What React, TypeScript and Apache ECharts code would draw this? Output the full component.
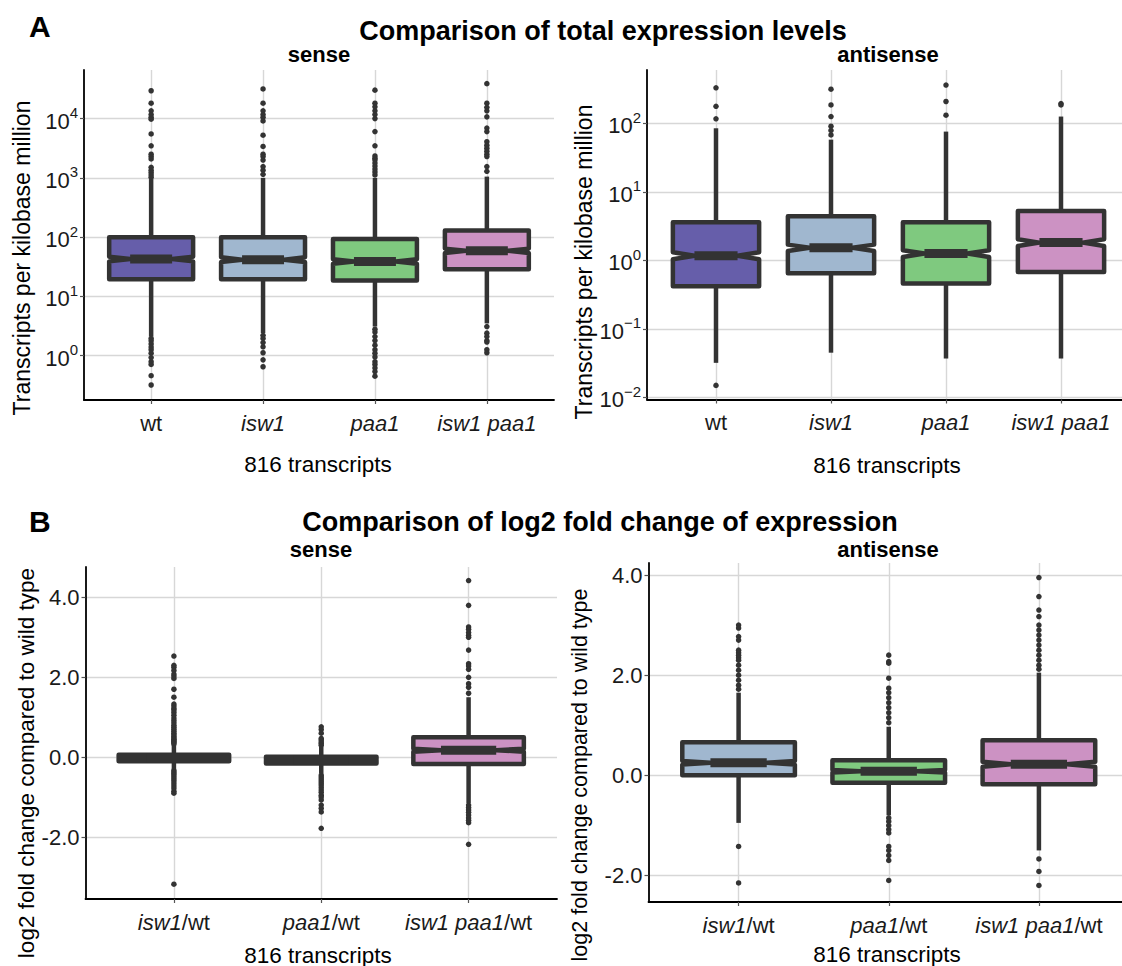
import React, { useEffect, useRef } from "react";
import * as echarts from "echarts";

const FONT = '"Liberation Sans", Arial, Helvetica, sans-serif';
const DARK = "#333333";
const N_TRANSCRIPTS = 816;

// ---------- categories ----------
const strainLabels = ["wt", "isw1", "paa1", "isw1 paa1"];
const ratioLabels = ["isw1", "paa1", "isw1 paa1"]; // shown as "<strain>/wt"
const strainColors = ["#665EAA", "#A0B7CF", "#7FC97F", "#CC92C3"];
const ratioColors = ["#A0B7CF", "#7FC97F", "#CC92C3"];

// ---------- A: TPM, [lower whisker, Q1, median, Q3, upper whisker] ----------
const senseTpmStats = [
  [2.1, 19.5, 42.7, 100, 955],
  [2.4, 19.5, 41.7, 100, 1000],
  [3.1, 18.6, 38.9, 93.3, 1000],
  [3.5, 28.8, 58.9, 129, 1050],
];
const senseTpmOutliers = [
  [29500, 18200, 13500, 11700, 10500, 9770, 5500, 3470, 2510, 2290, 2090, 1510, 1350, 1230, 1120, 1020,
    1.95, 1.78, 1.58, 1.4, 1.26, 1.1, 0.93, 0.79, 0.71, 0.46, 0.32],
  [31600, 18200, 13500, 11700, 10500, 9120, 5250, 3390, 2510, 2290, 2000, 1550, 1350, 1150,
    2.2, 1.95, 1.66, 1.41, 1.12, 0.85, 0.65],
  [30200, 18200, 15800, 13500, 11700, 10000, 6030, 3470, 2340, 2150, 2000, 1780, 1580, 1410, 1260, 1120,
    2.8, 2.5, 2.1, 1.8, 1.5, 1.26, 1.1, 0.95, 0.79, 0.71, 0.62, 0.54, 0.45],
  [38900, 18200, 15500, 13500, 10700, 6920, 6030, 4070, 3550, 3160, 2820, 2510, 2290, 1550, 1290,
    3.1, 2.4, 2.1, 1.8, 1.7, 1.26, 1.12],
];
const antisenseTpmStats = [
  [0.032, 0.42, 1.17, 3.6, 85],
  [0.045, 0.65, 1.53, 4.4, 58],
  [0.037, 0.46, 1.26, 3.6, 76],
  [0.037, 0.68, 1.82, 5.25, 126],
];
const antisenseTpmOutliers = [
  [331, 178, 117, 0.015],
  [316, 186, 126, 91, 79, 68],
  [363, 209, 132],
  [195, 186],
];
const senseExpTicks = [0, 1, 2, 3, 4];
const antisenseExpTicks = [-2, -1, 0, 1, 2];

// ---------- B: log2 fold change, [lower whisker, Q1, median, Q3, upper whisker] ----------
const senseLog2Stats = [
  [-0.3, -0.1, -0.02, 0.06, 0.3],
  [-0.41, -0.16, -0.07, 0.01, 0.26],
  [-1.15, -0.17, 0.175, 0.5, 1.5],
];
const senseLog2Outliers = [
  [2.53, 2.3, 2.25, 2.17, 2.08, 2.03, 1.97, 1.7, 1.5, 1.33, 1.28, 1.22, 1.18, 1.12, 1.05, 0.98, 0.92, 0.86,
    0.8, 0.75, 0.7, 0.65, 0.6, 0.56, 0.52, 0.48, 0.45, 0.42, 0.39, 0.36, 0.33,
    -0.33, -0.37, -0.41, -0.45, -0.5, -0.55, -0.6, -0.66, -0.72, -0.78, -0.85, -0.9, -3.18],
  [0.76, 0.69, 0.6, 0.47, 0.43, 0.38, 0.34, 0.3,
    -0.45, -0.5, -0.55, -0.6, -0.65, -0.7, -0.76, -0.82, -0.88, -0.95, -1.0, -1.07, -1.2, -1.28, -1.37, -1.78],
  [4.42, 3.8, 3.26, 3.2, 3.12, 3.05, 3.0, 2.68, 2.34, 2.28, 2.2, 2.0, 1.84, 1.75, 1.6,
    -1.2, -1.26, -1.32, -1.38, -1.45, -1.52, -1.58, -1.64, -2.18],
];
const antisenseLog2Stats = [
  [-0.95, 0.0, 0.25, 0.66, 1.65],
  [-0.8, -0.15, 0.08, 0.3, 0.97],
  [-1.5, -0.18, 0.22, 0.7, 2.05],
];
const antisenseLog2Outliers = [
  [3.0, 2.94, 2.77, 2.7, 2.5, 2.45, 2.4, 2.35, 2.3, 2.2, 2.1, 2.0, 1.9, 1.8, 1.72, -1.42, -2.15],
  [2.4, 2.27, 2.24, 1.94, 1.74, 1.65, 1.55, 1.45, 1.35, 1.25, 1.15, 1.05,
    -0.85, -0.92, -1.0, -1.08, -1.15, -1.42, -1.5, -1.6, -1.7, -2.1],
  [3.95, 3.57, 3.3, 3.17, 3.0, 2.9, 2.8, 2.7, 2.6, 2.5, 2.4, 2.3, 2.2, 2.12, -1.67, -1.92, -2.2],
];
const log2Ticks = [-2, 0, 2, 4];

// ---------- layout ----------
const BOX_WIDTH = 0.75;
const NOTCH_WIDTH = 0.5;
const LINE_W = 4.5;
const GRID_COLOR = "#d7d7d7";

const panels = [
  { left: 84, top: 70, width: 470, height: 330, xMax: 4.6, yMin: -0.748, yMax: 4.82 },
  { left: 647, top: 70, width: 483, height: 329.5, xMax: 4.6, yMin: -2.03, yMax: 2.78 },
  { left: 85.5, top: 567, width: 471.5, height: 332, xMax: 3.6, yMin: -3.55, yMax: 4.76 },
  { left: 648.5, top: 563, width: 480.5, height: 339, xMax: 3.6, yMin: -2.53, yMax: 4.24 },
];

const log10 = (v: number) => Math.log10(v);
const ident = (v: number) => v;

function boxSeries(idx: number, stats: number[][], colors: string[], tf: (v: number) => number) {
  return {
    type: "custom",
    xAxisIndex: idx,
    yAxisIndex: idx,
    z: 3,
    clip: false,
    data: stats.map((s, i) => [i + 1, ...s.map(tf)]),
    encode: { x: 0, y: [1, 2, 3, 4, 5] },
    renderItem: (params: any, api: any) => {
      const x = api.value(0);
      const lo = api.value(1), q1 = api.value(2), med = api.value(3), q3 = api.value(4), hi = api.value(5);
      const notch = (1.58 * (q3 - q1)) / Math.sqrt(N_TRANSCRIPTS);
      const cx = api.coord([x, med])[0];
      const yLo = api.coord([x, lo])[1];
      const yQ1 = api.coord([x, q1])[1];
      const yMed = api.coord([x, med])[1];
      const yQ3 = api.coord([x, q3])[1];
      const yHi = api.coord([x, hi])[1];
      const yNU = api.coord([x, med + notch])[1];
      const yNL = api.coord([x, med - notch])[1];
      const hw = api.size([BOX_WIDTH, 0])[0] / 2;
      const L = cx - hw, R = cx + hw, inset = hw * NOTCH_WIDTH;
      const lineStyle = { stroke: DARK, lineWidth: LINE_W, lineCap: "butt" };
      return {
        type: "group",
        children: [
          { type: "line", shape: { x1: cx, y1: yHi, x2: cx, y2: yQ3 }, style: lineStyle },
          { type: "line", shape: { x1: cx, y1: yQ1, x2: cx, y2: yLo }, style: lineStyle },
          {
            type: "polygon",
            shape: {
              points: [
                [L, yQ3], [R, yQ3], [R, yNU], [R - inset, yMed], [R, yNL], [R, yQ1],
                [L, yQ1], [L, yNL], [L + inset, yMed], [L, yNU],
              ],
            },
            style: { fill: colors[params.dataIndex], stroke: DARK, lineWidth: LINE_W, lineJoin: "round" },
          },
          {
            type: "line",
            shape: { x1: L + inset, y1: yMed, x2: R - inset, y2: yMed },
            style: { stroke: DARK, lineWidth: LINE_W * 2, lineCap: "butt" },
          },
        ],
      };
    },
  };
}

function outlierSeries(idx: number, outliers: number[][], tf: (v: number) => number) {
  const data: number[][] = [];
  outliers.forEach((list, i) => list.forEach((v) => data.push([i + 1, tf(v)])));
  return {
    type: "scatter",
    xAxisIndex: idx,
    yAxisIndex: idx,
    z: 2,
    symbolSize: 5.5,
    itemStyle: { color: DARK, opacity: 1 },
    silent: true,
    data,
  };
}

const rich = {
  i: { fontStyle: "italic", fontSize: 22, fontFamily: FONT, color: "#1a1a1a" },
  n: { fontStyle: "normal", fontSize: 22, fontFamily: FONT, color: "#1a1a1a" },
  b: { fontSize: 22, fontFamily: FONT, color: "#1a1a1a", lineHeight: 27, verticalAlign: "bottom" },
  s: { fontSize: 15, fontFamily: FONT, color: "#1a1a1a", lineHeight: 15, verticalAlign: "top" },
};

function xAxis(idx: number, kind: "strain" | "ratio") {
  const p = panels[idx];
  const count = kind === "strain" ? strainLabels.length : ratioLabels.length;
  const ticks = Array.from({ length: count }, (_, i) => i + 1);
  return {
    type: "value",
    gridIndex: idx,
    min: 0.4,
    max: p.xMax,
    axisLine: { show: true, onZero: false, lineStyle: { color: "#000", width: 1.8 } },
    axisTick: { show: true, length: 4, customValues: ticks, lineStyle: { color: "#555", width: 1.2 } },
    splitLine: { show: true, lineStyle: { color: GRID_COLOR, width: 1.4 } },
    axisLabel: {
      customValues: ticks,
      margin: 12,
      rich,
      formatter: (v: number) => {
        const i = Math.round(v) - 1;
        if (kind === "strain") {
          const s = strainLabels[i];
          return s === "wt" ? `{n|${s}}` : `{i|${s}}`;
        }
        return `{i|${ratioLabels[i]}}{n|/wt}`;
      },
    },
  };
}

function yAxis(idx: number, kind: "log" | "lin", ticks: number[]) {
  const p = panels[idx];
  return {
    type: "value",
    gridIndex: idx,
    min: p.yMin,
    max: p.yMax,
    axisLine: { show: true, onZero: false, lineStyle: { color: "#000", width: 1.8 } },
    axisTick: { show: true, length: 4, customValues: ticks, lineStyle: { color: "#555", width: 1.2 } },
    splitLine: { show: true, lineStyle: { color: GRID_COLOR, width: 1.4 } },
    axisLabel: {
      customValues: ticks,
      margin: 6,
      rich,
      formatter: (v: number) => {
        if (kind === "log") {
          const e = Math.round(v);
          return `{b|10}{s|${e < 0 ? "\u2212" + -e : e}}`;
        }
        return `{n|${v.toFixed(1)}}`;
      },
    },
  };
}

type T = { text: string; x: number; y: number; size: number; bold?: boolean; rot?: boolean; align?: string };
const texts: T[] = [
  { text: "A", x: 29, y: 26, size: 30, bold: true, align: "left" },
  { text: "Comparison of total expression levels", x: 603, y: 31, size: 27, bold: true },
  { text: "sense", x: 319, y: 54, size: 22, bold: true },
  { text: "antisense", x: 888, y: 54, size: 22, bold: true },
  { text: "Transcripts per kilobase million", x: 22, y: 258, size: 23, rot: true },
  { text: "Transcripts per kilobase million", x: 584, y: 262, size: 23, rot: true },
  { text: `${N_TRANSCRIPTS} transcripts`, x: 318, y: 464, size: 22.5 },
  { text: `${N_TRANSCRIPTS} transcripts`, x: 887, y: 465, size: 22.5 },
  { text: "B", x: 29, y: 521, size: 30, bold: true, align: "left" },
  { text: "Comparison of log2 fold change of expression", x: 600, y: 522, size: 27, bold: true },
  { text: "sense", x: 321, y: 549, size: 22, bold: true },
  { text: "antisense", x: 888, y: 549, size: 22, bold: true },
  { text: "log2 fold change compared to wild type", x: 26, y: 763, size: 22.5, rot: true },
  { text: "log2 fold change compared to wild type", x: 580, y: 775, size: 21.5, rot: true },
  { text: `${N_TRANSCRIPTS} transcripts`, x: 318, y: 955, size: 22.5 },
  { text: `${N_TRANSCRIPTS} transcripts`, x: 887, y: 954, size: 22.5 },
];

export default function App() {
  const ref = useRef<HTMLDivElement>(null);
  useEffect(() => {
    if (!ref.current) return;
    const chart = echarts.init(ref.current, undefined, { renderer: "svg" });
    chart.setOption({
      animation: false,
      backgroundColor: "#ffffff",
      textStyle: { fontFamily: FONT },
      grid: panels.map((p) => ({
        left: p.left, top: p.top, width: p.width, height: p.height,
        containLabel: false, outerBoundsMode: "none",
      })),
      xAxis: [xAxis(0, "strain"), xAxis(1, "strain"), xAxis(2, "ratio"), xAxis(3, "ratio")],
      yAxis: [
        yAxis(0, "log", senseExpTicks),
        yAxis(1, "log", antisenseExpTicks),
        yAxis(2, "lin", log2Ticks),
        yAxis(3, "lin", log2Ticks),
      ],
      series: [
        outlierSeries(0, senseTpmOutliers, log10),
        boxSeries(0, senseTpmStats, strainColors, log10),
        outlierSeries(1, antisenseTpmOutliers, log10),
        boxSeries(1, antisenseTpmStats, strainColors, log10),
        outlierSeries(2, senseLog2Outliers, ident),
        boxSeries(2, senseLog2Stats, ratioColors, ident),
        outlierSeries(3, antisenseLog2Outliers, ident),
        boxSeries(3, antisenseLog2Stats, ratioColors, ident),
      ],
      graphic: texts.map((t) => ({
        type: "text",
        x: t.x,
        y: t.y,
        rotation: t.rot ? Math.PI / 2 : 0,
        silent: true,
        style: {
          text: t.text,
          fill: "#000",
          fontSize: t.size,
          fontWeight: t.bold ? "bold" : "normal",
          fontFamily: FONT,
          align: t.align || "center",
          textAlign: t.align || "center",
          verticalAlign: "middle",
          textVerticalAlign: "middle",
        },
      })),
    });
    return () => chart.dispose();
  }, []);
  return (
    <div
      ref={ref}
      style={{ position: "absolute", left: 0, top: 0, width: 1122, height: 966, background: "#fff" }}
    />
  );
}
